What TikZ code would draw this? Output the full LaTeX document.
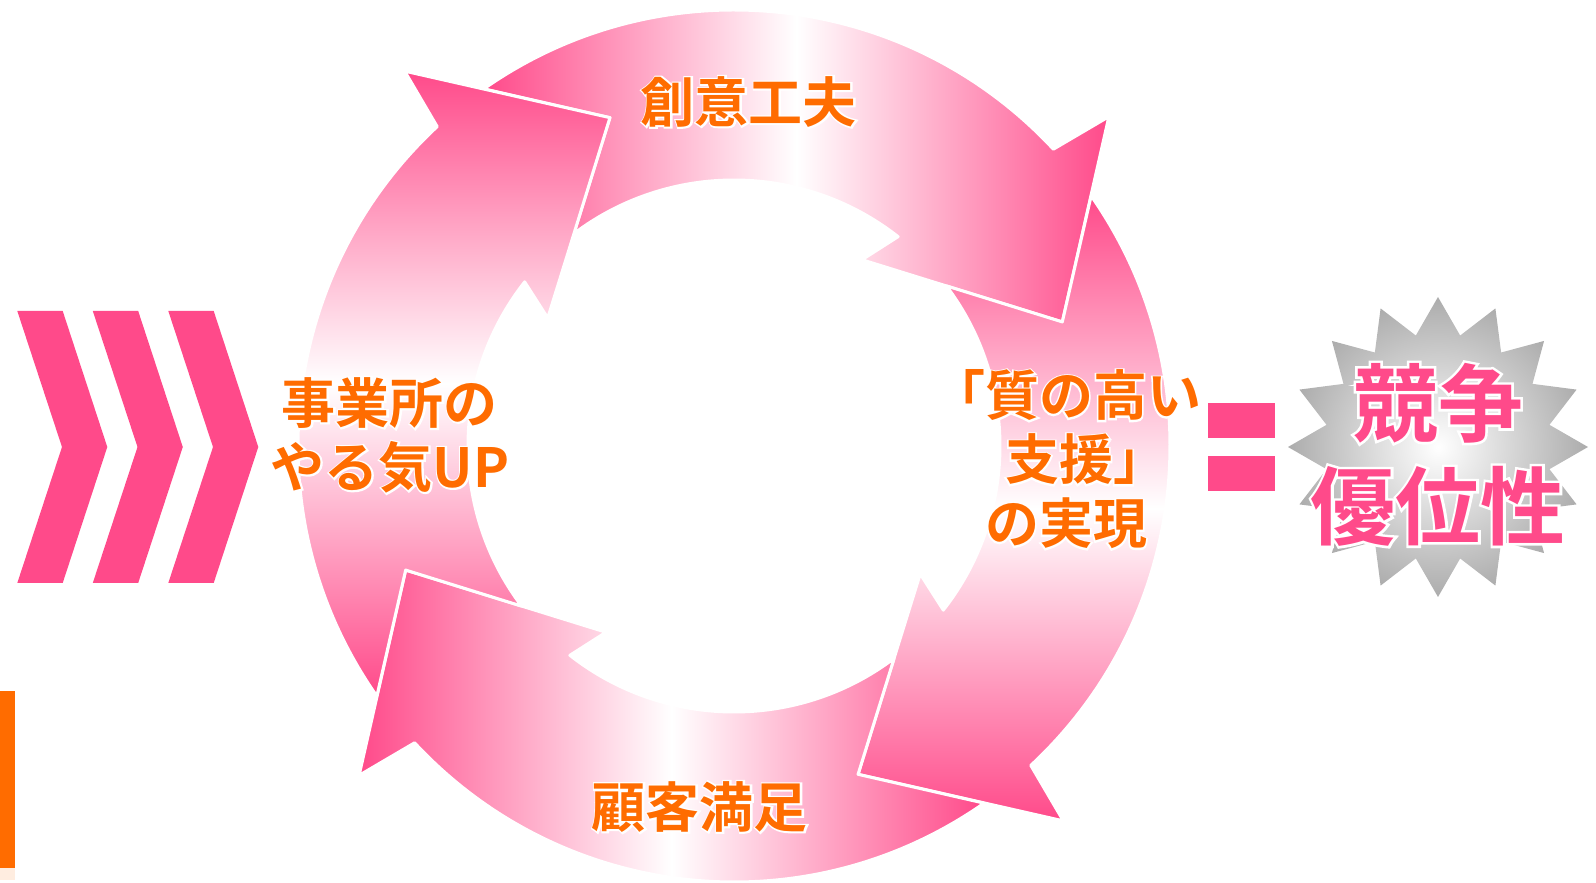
\documentclass[tikz,border=0pt]{standalone}
\usepackage{fontspec}
\newfontfamily\jpfont{Noto Sans CJK JP Bold}
\newfontfamily\jpglow{Noto Sans CJK JP Bold}[FakeBold=6]
\usetikzlibrary{shapes.geometric}

\definecolor{cyclepink}{RGB}{255,74,138}
\definecolor{labelorange}{RGB}{255,108,0}

\begin{document}
\begin{tikzpicture}[
  x=0.5pt, y=0.5pt,
  hshade/.style={left color=cyclepink, right color=cyclepink, middle color=white},
  vshade/.style={top color=cyclepink, bottom color=cyclepink, middle color=white},
  rim/.style={draw=white, line width=1.5pt, line join=round},
  cyclelabel/.style={font=\jpfont\fontsize{27}{32}\selectfont, text=labelorange, align=center, inner sep=0pt},
  cycleglow/.style={font=\jpglow\fontsize{27}{32}\selectfont, text=white, align=center, inner sep=0pt},
  advlabel/.style={font=\jpfont\fontsize{42.5}{51.5}\selectfont, text=cyclepink, align=center, inner sep=0pt},
  advglow/.style={font=\jpglow\fontsize{42.5}{51.5}\selectfont, text=white, align=center, inner sep=0pt},
  burst/.style={star, star points=16, star point ratio=1.32, minimum size=150pt, inner sep=0pt,
    inner color=white, outer color=gray!65}
]
\useasboundingbox (-734,-437) rectangle (862,446);

% chevrons
\foreach \i in {0,1,2} {
  \fill[cyclepink, shift={(75.5*\i,0)}] (-716.7,135) -- (-671.3,135) -- (-626.7,-1)
    -- (-671.3,-137) -- (-716.7,-137) -- (-672,-1) -- cycle;
}

\fill[labelorange] (-734,-245) rectangle (-719,-422);
\fill[labelorange!12] (-734,-422) rectangle (-719,-434);

% cycle
\foreach \r/\sh in {0/hshade, -90/vshade, 180/hshade, 90/vshade} {
  \path[\sh, rim] ({\r+125}:436) arc[start angle={\r+125}, end angle={\r+42.9}, radius=436]
    -- ({\r+41.3}:499) -- ({\r+20.7}:351) -- ({\r+55.5}:226) -- ({\r+51.9}:266)
    arc[start angle={\r+51.9}, end angle={\r+127}, radius=266]
    -- ({\r+110.7}:351) -- cycle;
}

\node[cycleglow] (ideasglow) at (15,344) {創意工夫};
\node[cyclelabel] (ideas) at (ideasglow) {創意工夫};

\node[cycleglow] (qualityglow) at (332,-13.5) {「質の高い\\\hspace*{20pt}支援」\\の実現};
\node[cyclelabel] (quality) at (qualityglow) {「質の高い\\\hspace*{20pt}支援」\\の実現};

\node[cycleglow] (satisfyglow) at (-34,-361) {顧客満足};
\node[cyclelabel] (satisfy) at (satisfyglow) {顧客満足};

\node[cycleglow] (motivationglow) at (-344,10.5) {事業所の\\やる気UP};
\node[cyclelabel] (motivation) at (motivationglow) {事業所の\\やる気UP};

% equals
\fill[cyclepink] (474,43) rectangle (541,8);
\fill[cyclepink] (474,-10) rectangle (541,-45);

\node[burst] (star) at (704,-1) {};
\node[advglow] (advantageglow) at (704,-8.5) {競争\\優位性};
\node[advlabel] (advantage) at (advantageglow) {競争\\優位性};
\end{tikzpicture}
\end{document}
